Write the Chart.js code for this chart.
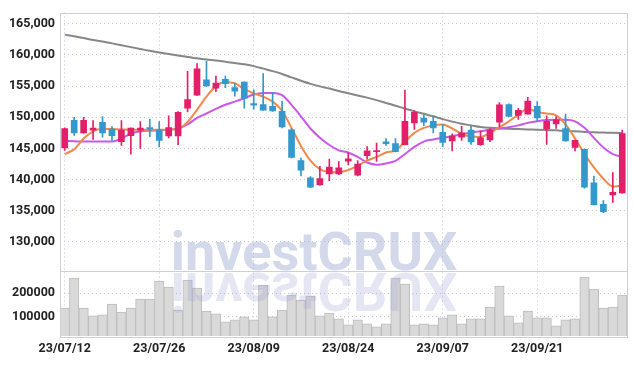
<!DOCTYPE html>
<html>
<head>
<meta charset="utf-8">
<script src="https://cdn.jsdelivr.net/npm/chart.js@4.4.1/dist/chart.umd.min.js"></script>
<style>
html, body { margin: 0; padding: 0; background: #fff; }
#wrap { width: 634px; height: 366px; }
</style>
</head>
<body>
<div id="wrap"><canvas id="chart" width="634" height="366"></canvas></div>
<script>
// daily candles, 23/07/12 .. 23/10/11
const dates = [
    '23/07/12','23/07/13','23/07/14','23/07/17','23/07/18','23/07/19','23/07/20','23/07/21','23/07/24','23/07/25',
    '23/07/26','23/07/27','23/07/28','23/07/31','23/08/01','23/08/02','23/08/03','23/08/04','23/08/07','23/08/08',
    '23/08/09','23/08/10','23/08/11','23/08/14','23/08/16','23/08/17','23/08/18','23/08/21','23/08/22','23/08/23',
    '23/08/24','23/08/25','23/08/28','23/08/29','23/08/30','23/08/31','23/09/01','23/09/04','23/09/05','23/09/06',
    '23/09/07','23/09/08','23/09/11','23/09/12','23/09/13','23/09/14','23/09/15','23/09/18','23/09/19','23/09/20',
    '23/09/21','23/09/22','23/09/25','23/09/26','23/09/27','23/10/04','23/10/05','23/10/06','23/10/10','23/10/11'
];
const opens = [
    145100,149500,147500,147950,149200,148100,146100,147050,147950,148350,
    148000,147000,147000,151450,153550,156000,154650,156100,154750,155650,
    152200,152050,151750,150950,148000,143050,140300,139150,140900,140900,
    142950,140700,143850,144500,146050,145800,145600,149100,149850,149350,
    147600,146200,146800,147950,145600,146350,149200,152050,150300,150500,
    151750,148150,148950,148200,145150,144850,139500,136050,137550,137850
];
const highs = [
    148300,150000,150000,149450,150100,148500,149450,148300,149300,149700,
    149300,150250,150900,157350,158600,158950,156600,156600,155400,155700,
    154400,157000,153950,152600,148200,143450,140500,142150,143300,142900,
    144300,143050,145300,145850,146600,146600,154350,151050,150450,150150,
    148850,147350,148550,148600,147800,148200,152350,152150,151450,153200,
    152500,150250,150100,150500,146350,144900,140550,136650,141150,147950
];
const lows = [
    144700,147100,147400,146450,146800,146300,145500,144100,145000,146900,
    145250,146700,145600,150850,153500,154900,154100,154750,153400,151450,
    151300,151100,150950,148300,143500,140600,138700,139100,139850,140800,
    142400,140600,143300,142900,145500,144450,145550,148050,148650,147500,
    145300,144600,146300,145650,145500,146100,148450,150100,149650,150500,
    149350,145650,148200,146150,144600,138650,135900,134700,136350,137800
];
const closes = [
    148200,147500,149500,148250,147500,147050,147950,148250,148250,148150,
    146300,148350,150800,152850,157750,155050,155500,155400,154200,153050,
    151950,151150,151000,148450,143550,141500,138800,140150,142000,141900,
    143350,142500,144600,144650,145750,144500,149350,150800,149200,148300,
    145950,147000,147500,146050,146700,147950,152000,150150,151100,152600,
    149900,149350,149600,146200,146300,138800,136000,134850,137950,147400
];
const ma5 = [
    144100,144850,146600,147750,148150,148100,148050,148000,148000,148000,
    148000,148000,148150,149250,151200,153300,155000,155600,155450,154500,
    153850,153300,152500,151050,148300,145400,143050,141700,141200,141200,
    141550,142250,143050,143650,144350,144700,146100,147500,148300,148700,
    148850,148200,147350,146900,146850,147500,148400,149350,150400,151350,
    150850,150600,150300,148850,146600,144100,141950,140150,138900,139050
];
const ma20 = [
    146200,146150,146100,146100,146100,146100,146600,147350,147750,147850,
    147900,148000,148200,148850,149900,150600,151350,152000,152500,153050,
    153650,153900,153900,153550,152000,150150,148200,146700,145550,144700,
    144350,143650,142750,142400,142600,143000,144100,145250,146100,146450,
    146700,147000,147250,147550,147750,148000,148200,148400,148700,149100,
    149350,149550,149600,149600,149350,148300,146700,145150,144100,143650
];
const ma60 = [
    163250,163000,162700,162400,162150,161850,161550,161250,160950,160650,
    160400,160150,159900,159650,159450,159250,159100,158900,158700,158500,
    158200,157800,157400,156950,156400,155850,155350,154950,154600,154200,
    153850,153500,153150,152750,152300,151850,151400,150950,150550,150150,
    149700,149300,148950,148700,148450,148300,148200,148150,148100,148050,
    148000,147950,147900,147800,147750,147650,147600,147550,147500,147480
];
const volumes = [
    137400,262400,137400,104000,108200,154000,120700,137400,174900,174900,
    249900,224900,129000,254000,220700,124900,112400,79000,87400,99900,
    87400,233200,99900,129000,191500,170700,187400,104000,116400,91400,
    66500,87400,70700,58200,70700,262400,237400,66500,70700,66500,
    95700,108200,70700,91400,91400,141500,229000,104000,74900,124900,
    95700,95700,62400,87400,91400,266500,216500,137400,141500,191500
];
const priceTicks = [130000, 135000, 140000, 145000, 150000, 155000, 160000, 165000];
const volumeTicks = [100000, 200000];

const upColor = '#e2206a';
const downColor = '#3398cb';
const gridColor = '#c3c8dc';
const labelFont = { family: "Roboto, 'DejaVu Sans Condensed', sans-serif", size: 12.5, weight: 'bold' };

const candleColors = opens.map((o, i) => closes[i] >= o ? upColor : downColor);

// frame + watermark
const framePlugin = {
    id: 'frame',
    afterDatasetsDraw(chart) {
        const ctx = chart.ctx;
        const a = chart.chartArea;
        const priceBottom = chart.scales.y.bottom;

        ctx.save();
        ctx.font = "bold 54px Roboto, 'DejaVu Sans', sans-serif";
        ctx.textAlign = 'center';
        ctx.textBaseline = 'alphabetic';
        ctx.fillStyle = 'rgba(150, 162, 208, 0.42)';
        ctx.fillText('investCRUX', 314, priceBottom - 1);
        // mirrored copy in the volume pane
        ctx.beginPath();
        ctx.rect(a.left, priceBottom, a.right - a.left, a.bottom - priceBottom);
        ctx.clip();
        ctx.translate(0, priceBottom * 2 + 1);
        ctx.scale(1, -1);
        ctx.fillStyle = 'rgba(150, 162, 208, 0.26)';
        ctx.fillText('investCRUX', 314, priceBottom - 1);
        ctx.restore();

        ctx.save();
        ctx.strokeStyle = '#cfcfcf';
        ctx.lineWidth = 1;
        ctx.strokeRect(Math.round(a.left) + 0.5, Math.round(a.top) + 0.5,
            Math.round(a.right - a.left), Math.round(a.bottom - a.top));
        ctx.beginPath();
        ctx.moveTo(a.left, Math.round(priceBottom) + 0.5);
        ctx.lineTo(a.right, Math.round(priceBottom) + 0.5);
        ctx.stroke();
        ctx.restore();
    }
};

const ctx = document.getElementById('chart').getContext('2d');
new Chart(ctx, {
    data: {
        labels: dates,
        datasets: [
            {
                type: 'bar',
                label: 'wick',
                data: dates.map((d, i) => [lows[i], highs[i]]),
                backgroundColor: candleColors,
                barThickness: 1,
                grouped: false,
                yAxisID: 'y',
                order: 1
            },
            {
                type: 'bar',
                label: 'body',
                data: dates.map((d, i) => [opens[i], closes[i]]),
                backgroundColor: candleColors,
                barThickness: 6,
                minBarLength: 1,
                grouped: false,
                yAxisID: 'y',
                order: 0
            },
            {
                type: 'line',
                label: 'MA5',
                data: ma5,
                borderColor: '#ef8a4c',
                borderWidth: 2,
                pointRadius: 0,
                cubicInterpolationMode: 'monotone',
                yAxisID: 'y',
                order: 4
            },
            {
                type: 'line',
                label: 'MA20',
                data: ma20,
                borderColor: '#c957ea',
                borderWidth: 2,
                pointRadius: 0,
                cubicInterpolationMode: 'monotone',
                yAxisID: 'y',
                order: 5
            },
            {
                type: 'line',
                label: 'MA60',
                data: ma60,
                borderColor: '#878787',
                borderWidth: 2,
                pointRadius: 0,
                cubicInterpolationMode: 'monotone',
                yAxisID: 'y',
                order: 6
            },
            {
                type: 'bar',
                label: 'volume',
                data: volumes,
                backgroundColor: '#d9d9d9',
                borderColor: '#bdbdbd',
                borderWidth: 1,
                barPercentage: 1,
                categoryPercentage: 1,
                grouped: false,
                yAxisID: 'yVol',
                order: 7
            }
        ]
    },
    options: {
        responsive: false,
        animation: false,
        layout: { padding: { top: 9, right: 7, left: 0, bottom: 5 } },
        plugins: {
            legend: { display: false },
            tooltip: { enabled: false }
        },
        scales: {
            x: {
                type: 'category',
                offset: true,
                afterBuildTicks: (axis) => {
                    axis.ticks = axis.ticks.filter((t, i) => i % 10 === 0);
                },
                ticks: {
                    autoSkip: false,
                    maxRotation: 0,
                    padding: 5,
                    color: '#222',
                    font: labelFont
                },
                grid: { offset: false, drawTicks: false, color: gridColor },
                border: { display: false, dash: [1, 3] }
            },
            y: {
                position: 'left',
                stack: 'panes',
                stackWeight: 4,
                weight: 2,
                min: 125300,
                max: 166800,
                afterBuildTicks: (axis) => {
                    axis.ticks = priceTicks.map(v => ({ value: v }));
                },
                afterFit: (axis) => { axis.width = 60; },
                ticks: {
                    padding: 5,
                    color: '#222',
                    font: labelFont,
                    callback: (v) => v.toLocaleString('en-US')
                },
                grid: { drawTicks: false, color: gridColor },
                border: { display: false, dash: [1, 3] }
            },
            yVol: {
                position: 'left',
                stack: 'panes',
                stackWeight: 1,
                weight: 1,
                min: 20000,
                max: 291000,
                afterBuildTicks: (axis) => {
                    axis.ticks = volumeTicks.map(v => ({ value: v }));
                },
                afterFit: (axis) => { axis.width = 60; },
                ticks: {
                    padding: 5,
                    color: '#222',
                    font: labelFont,
                    callback: (v) => String(v)
                },
                grid: { drawTicks: false, color: gridColor },
                border: { display: false, dash: [1, 3] }
            }
        }
    },
    plugins: [framePlugin]
});
</script>
</body>
</html>
